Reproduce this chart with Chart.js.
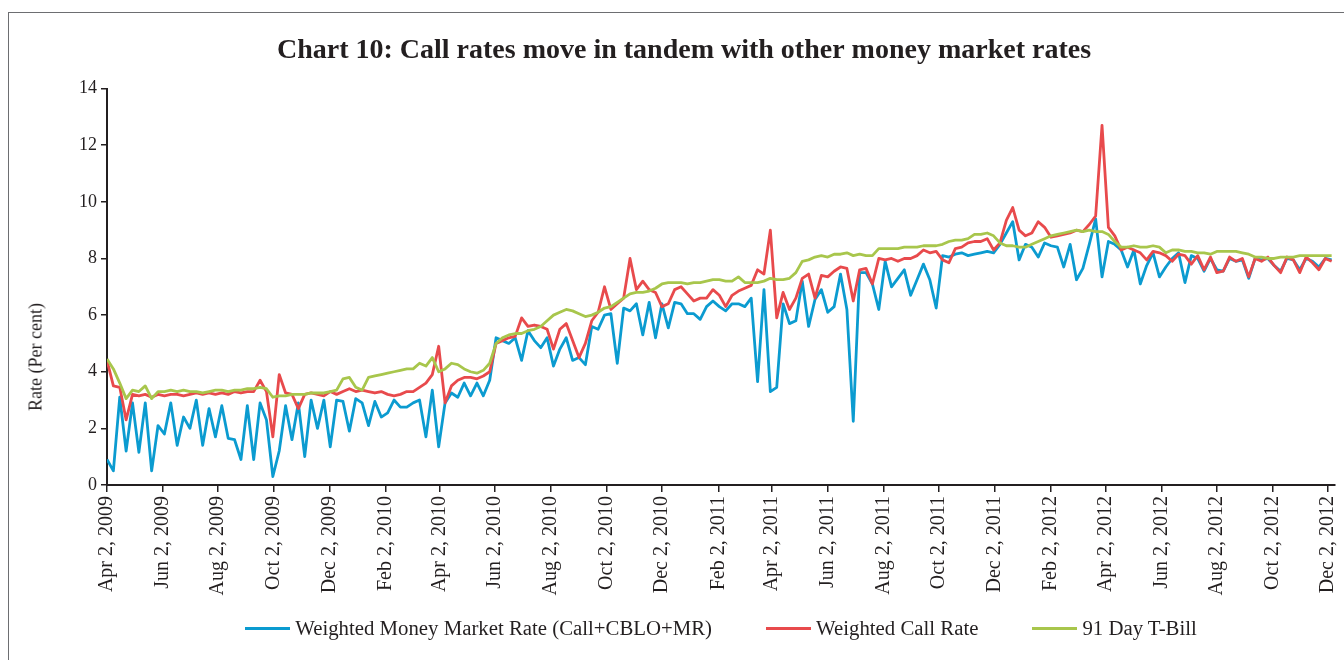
<!DOCTYPE html>
<html><head><meta charset="utf-8">
<script src="https://cdn.jsdelivr.net/npm/chart.js@4.4.1/dist/chart.umd.min.js"></script>
<style>
html,body{margin:0;padding:0;background:#fff;overflow:hidden;width:1344px;height:660px}
#frame{position:absolute;left:8px;top:12px;width:1400px;height:700px;border-left:1.5px solid #6d6e71;border-top:1.5px solid #6d6e71}
#wrap{position:absolute;left:0;top:0;width:1356px;height:660px}
#ytitle{position:absolute;left:36px;top:357px;transform:translate(-50%,-50%) rotate(-90deg);font:18px "Liberation Serif";color:#231f20;white-space:nowrap}
#legend{position:absolute;left:1px;width:1440px;top:616px;display:flex;justify-content:center;font:20.8px "Liberation Serif";color:#231f20}
#legend .it{display:flex;align-items:center;margin:0 27px;white-space:nowrap}
#legend .ln{display:inline-block;width:45px;height:3px;margin-right:5px}
</style></head><body>
<div id="frame"></div>
<div id="wrap"><canvas id="c" width="1356" height="660"></canvas></div>
<div id="ytitle">Rate (Per cent)</div>
<div id="legend"></div>
<script>
const chartTitle = "Chart 10: Call rates move in tandem with other money market rates";
const startDate = "Apr 2, 2009";
const stepDays = 7;
const tickLabels = ["Apr 2, 2009","Jun 2, 2009","Aug 2, 2009","Oct 2, 2009","Dec 2, 2009",
  "Feb 2, 2010","Apr 2, 2010","Jun 2, 2010","Aug 2, 2010","Oct 2, 2010","Dec 2, 2010",
  "Feb 2, 2011","Apr 2, 2011","Jun 2, 2011","Aug 2, 2011","Oct 2, 2011","Dec 2, 2011",
  "Feb 2, 2012","Apr 2, 2012","Jun 2, 2012","Aug 2, 2012","Oct 2, 2012","Dec 2, 2012"];
const yTicks = [0,2,4,6,8,10,12,14];
const seriesNames = ["Weighted Money Market Rate (Call+CBLO+MR)","Weighted Call Rate","91 Day T-Bill"];
const seriesColors = ["#0b9bd0","#e84a4c","#a8c64c"];

// weekly readings from Apr 2, 2009
const moneyMarket = [0.9,0.5,3.1,1.2,2.9,1.15,2.9,0.5,2.1,1.8,
  2.9,1.4,2.4,2.0,3.0,1.4,2.7,1.7,2.8,1.65,
  1.6,0.9,2.8,0.9,2.9,2.3,0.3,1.2,2.8,1.6,
  2.9,1.0,3.0,2.0,3.0,1.35,3.0,2.95,1.9,3.05,
  2.9,2.1,2.95,2.4,2.55,3.0,2.75,2.75,2.9,3.0,
  1.7,3.35,1.35,2.9,3.25,3.1,3.6,3.15,3.6,3.15,
  3.7,5.2,5.1,5.0,5.2,4.4,5.45,5.1,4.85,5.2,
  4.2,4.8,5.2,4.4,4.5,4.25,5.6,5.5,6.0,6.05,
  4.3,6.25,6.15,6.4,5.3,6.45,5.2,6.4,5.55,6.45,
  6.4,6.05,6.05,5.85,6.3,6.5,6.3,6.15,6.4,6.4,
  6.3,6.6,3.65,6.9,3.3,3.45,6.4,5.7,5.8,7.2,
  5.6,6.55,6.9,6.1,6.3,7.45,6.2,2.25,7.5,7.5,
  7.1,6.2,7.9,7.0,7.3,7.6,6.7,7.25,7.8,7.25,
  6.25,8.1,8.05,8.15,8.2,8.1,8.15,8.2,8.25,8.2,
  8.5,8.9,9.3,7.95,8.5,8.4,8.05,8.55,8.45,8.4,
  7.7,8.5,7.25,7.65,8.5,9.4,7.35,8.6,8.5,8.3,
  7.7,8.3,7.1,7.75,8.2,7.35,7.7,8.0,8.2,7.15,
  8.1,8.0,7.55,8.0,7.6,7.55,8.0,7.9,7.95,7.3,
  8.0,7.95,8.0,7.75,7.55,8.0,7.95,7.6,8.0,7.9,
  7.7,8.0,7.95];
const callRate = [4.4,3.5,3.45,2.3,3.2,3.15,3.2,3.1,3.2,3.15,
  3.2,3.2,3.15,3.2,3.25,3.2,3.25,3.2,3.25,3.2,
  3.3,3.25,3.3,3.3,3.7,3.3,1.7,3.9,3.25,3.2,
  2.7,3.2,3.25,3.2,3.15,3.3,3.2,3.3,3.4,3.3,
  3.35,3.3,3.25,3.3,3.2,3.15,3.2,3.3,3.3,3.45,
  3.6,3.9,4.9,2.9,3.5,3.7,3.8,3.8,3.75,3.85,
  4.0,5.0,5.1,5.2,5.25,5.9,5.6,5.65,5.6,5.5,
  4.8,5.5,5.7,5.1,4.5,5.0,5.8,6.1,7.0,6.2,
  6.4,6.6,8.0,6.9,7.2,6.9,6.8,6.3,6.4,6.9,
  7.0,6.75,6.5,6.6,6.6,6.9,6.7,6.3,6.7,6.85,
  6.95,7.05,7.6,7.45,9.0,5.9,6.8,6.2,6.6,7.3,
  7.45,6.6,7.4,7.35,7.55,7.7,7.65,6.5,7.6,7.65,
  7.1,8.0,7.95,8.0,7.9,8.0,8.0,8.1,8.3,8.2,
  8.25,7.95,7.85,8.35,8.4,8.55,8.6,8.6,8.7,8.3,
  8.55,9.35,9.8,9.0,8.8,8.9,9.3,9.1,8.75,8.8,
  8.85,8.9,9.0,8.95,9.2,9.5,12.7,9.1,8.8,8.3,
  8.4,8.3,8.2,7.95,8.25,8.2,8.1,7.9,8.15,8.1,
  7.8,8.1,7.6,8.05,7.5,7.55,8.05,7.9,8.0,7.35,
  8.0,7.9,8.05,7.75,7.5,8.05,7.95,7.5,8.05,7.85,
  7.6,8.0,7.9];
const tBill91 = [4.45,4.1,3.6,3.05,3.35,3.3,3.5,3.05,3.3,3.3,
  3.35,3.3,3.35,3.3,3.3,3.25,3.3,3.35,3.35,3.3,
  3.35,3.35,3.4,3.4,3.45,3.4,3.1,3.15,3.15,3.2,
  3.2,3.2,3.25,3.25,3.25,3.3,3.35,3.75,3.8,3.45,
  3.35,3.8,3.85,3.9,3.95,4.0,4.05,4.1,4.1,4.3,
  4.2,4.5,4.0,4.1,4.3,4.25,4.1,4.0,3.95,4.05,
  4.3,5.0,5.2,5.3,5.35,5.35,5.45,5.5,5.6,5.8,
  6.0,6.1,6.2,6.15,6.05,5.95,6.0,6.1,6.25,6.3,
  6.45,6.6,6.75,6.8,6.8,6.85,6.95,7.1,7.15,7.15,
  7.15,7.1,7.15,7.15,7.2,7.25,7.25,7.2,7.2,7.35,
  7.15,7.15,7.15,7.2,7.3,7.25,7.25,7.3,7.5,7.9,
  7.95,8.05,8.1,8.05,8.15,8.15,8.2,8.1,8.15,8.1,
  8.1,8.35,8.35,8.35,8.35,8.4,8.4,8.4,8.45,8.45,
  8.45,8.5,8.6,8.65,8.65,8.7,8.85,8.85,8.9,8.8,
  8.55,8.45,8.45,8.4,8.4,8.5,8.6,8.7,8.8,8.85,
  8.9,8.95,9.0,8.95,9.0,8.95,8.95,8.85,8.6,8.4,
  8.4,8.45,8.4,8.4,8.45,8.4,8.2,8.3,8.3,8.25,
  8.25,8.2,8.2,8.15,8.25,8.25,8.25,8.25,8.2,8.15,
  8.05,8.05,8.0,8.0,8.05,8.05,8.05,8.1,8.1,8.1,
  8.1,8.1,8.1];

const DAY = 86400000;
const t0 = Date.parse(startDate);
const dayOf = s => Math.round((Date.parse(s) - t0) / DAY);
const tickDays = tickLabels.map(dayOf);
const toPts = arr => arr.map((v, i) => ({x: i * stepDays, y: v}));
const FONT = "'Liberation Serif', 'Times New Roman', serif";
const INK = "#231f20";

const allSeries = [moneyMarket, callRate, tBill91];
const drawOrder = [3, 2, 1];
const datasets = allSeries.map((s, k) => ({
  label: seriesNames[k], data: toPts(s), borderColor: seriesColors[k], backgroundColor: seriesColors[k],
  borderWidth: 2.8, pointRadius: 0, tension: 0, order: drawOrder[k], borderJoinStyle: 'round'
}));

const chart = new Chart(document.getElementById('c'), {
  type: 'line',
  data: {datasets},
  options: {
    responsive: false, animation: false,
    layout: {padding: {left: 12, right: 0, top: 0, bottom: 53}},
    plugins: {
      legend: {display: false},
      tooltip: {enabled: false},
      title: {display: true, text: chartTitle, color: INK,
        font: {family: FONT, size: 28, weight: 'bold'}, padding: {top: 34, bottom: 21}}
    },
    scales: {
      x: {type: 'linear', min: 0, max: 1347,
        afterBuildTicks: s => { s.ticks = tickDays.map(v => ({value: v})); },
        afterFit: s => { s.height = 122; },
        ticks: {autoSkip: false, minRotation: 90, maxRotation: 90, padding: 4, color: INK,
          font: {family: FONT, size: 20}, callback: (v, i) => tickLabels[i]},
        grid: {drawOnChartArea: false, drawTicks: true, tickLength: 7, color: INK, lineWidth: 1.5},
        border: {display: true, color: INK, width: 2}
      },
      y: {min: 0, max: 14,
        afterBuildTicks: s => { s.ticks = yTicks.map(v => ({value: v})); },
        afterFit: s => { s.width = 95; },
        ticks: {padding: 4, color: INK, font: {family: FONT, size: 18}},
        grid: {drawOnChartArea: false, drawTicks: true, tickLength: 6, color: INK, lineWidth: 1.5},
        border: {display: true, color: INK, width: 2}
      }
    }
  }
});

const lg = document.getElementById('legend');
chart.data.datasets.forEach(ds => {
  const it = document.createElement('div'); it.className = 'it';
  const ln = document.createElement('span'); ln.className = 'ln'; ln.style.background = ds.borderColor;
  const tx = document.createElement('span'); tx.textContent = ds.label;
  it.appendChild(ln); it.appendChild(tx); lg.appendChild(it);
});
</script>
</body></html>
